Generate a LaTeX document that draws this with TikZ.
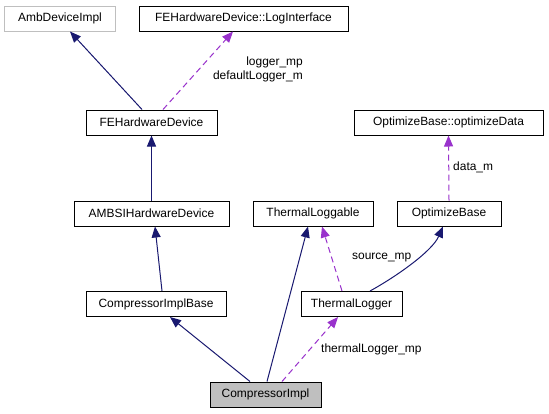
\documentclass[tikz,border=0pt]{standalone}
\usepackage{fontspec}
\setmainfont{Liberation Sans}
\usetikzlibrary{arrows.meta,calc}
\definecolor{inh}{RGB}{25,25,112}
\definecolor{use}{RGB}{153,50,204}
\definecolor{gbord}{RGB}{191,191,191}
\definecolor{cifill}{RGB}{191,191,191}
\begin{document}
\begin{tikzpicture}[x=1bp,y=-1bp,
  every node/.style={font=\fontsize{12}{14}\selectfont},
  cls/.style={draw=black,line width=1bp,fill=white,inner sep=0pt,minimum height=25bp,anchor=center},
  inhline/.style={draw=inh,line width=1bp,-{Triangle[length=11bp,width=9bp]}},
  useline/.style={draw=use,line width=1bp,dash pattern=on 6bp off 4bp,-{Triangle[length=11bp,width=9bp]}},
  lbl/.style={inner sep=0pt,align=right}]
\useasboundingbox[fill=white] (0,0) rectangle (549,413);
% nodes
\node[cls,draw=gbord,minimum width=110bp] (amb) at (60,18.5) {AmbDeviceImpl};
\node[cls,minimum width=209bp] (logi) at (243.5,18.5) {FEHardwareDevice::LogInterface};
\node[cls,minimum width=131bp] (feh) at (151.5,122.5) {FEHardwareDevice};
\node[cls,minimum width=189bp] (optd) at (448.5,122.5) {OptimizeBase::optimizeData};
\node[cls,minimum width=155bp] (ambsi) at (151.5,213.5) {AMBSIHardwareDevice};
\node[cls,minimum width=120bp] (tlg) at (313,213.5) {ThermalLoggable};
\node[cls,minimum width=104bp] (ob) at (449,213.5) {OptimizeBase};
\node[cls,minimum width=140bp] (cib) at (156,304) {CompressorImplBase};
\node[cls,minimum width=101bp] (tl) at (351.5,304) {ThermalLogger};
\node[cls,fill=cifill,minimum width=111bp] (ci) at (265.5,394.5) {CompressorImpl};
% edges
\draw[inhline] ([xshift=-9.5bp]feh.north) -- ([xshift=10bp]amb.south);
\draw[useline] ([xshift=11.5bp]feh.north) -- ([xshift=-10.5bp]logi.south);
\draw[inhline] (ambsi.north) -- (feh.south);
\draw[useline] (ob.north) -- (optd.south);
\draw[inhline] ([xshift=6bp]cib.north) -- ([xshift=3.5bp]ambsi.south);
\draw[inhline] ([xshift=-15.5bp]ci.north) -- ([xshift=14bp]cib.south);
\draw[inhline] ([xshift=1.5bp]ci.north) -- ([xshift=-5bp]tlg.south);
\draw[useline] ([xshift=16.5bp]ci.north) -- ([xshift=-13.5bp]tl.south);
\draw[useline] ([xshift=-9.5bp]tl.north) -- ([xshift=9bp]tlg.south);
\draw[inhline] ([xshift=18.5bp]tl.north) .. controls ($(tl.north)+(44,-14)$) and ($(ob.south)+(-17,25)$) .. ([xshift=-6bp]ob.south);
% labels
\node[lbl,anchor=east] (l1) at (303,69.5) {logger\_mp\\defaultLogger\_m};
\node[lbl,anchor=west] (l2) at (453,167) {data\_m};
\node[lbl,anchor=west] (l3) at (352,258) {source\_mp};
\node[lbl,anchor=west] (l4) at (321,349) {thermalLogger\_mp};
\end{tikzpicture}
\end{document}
